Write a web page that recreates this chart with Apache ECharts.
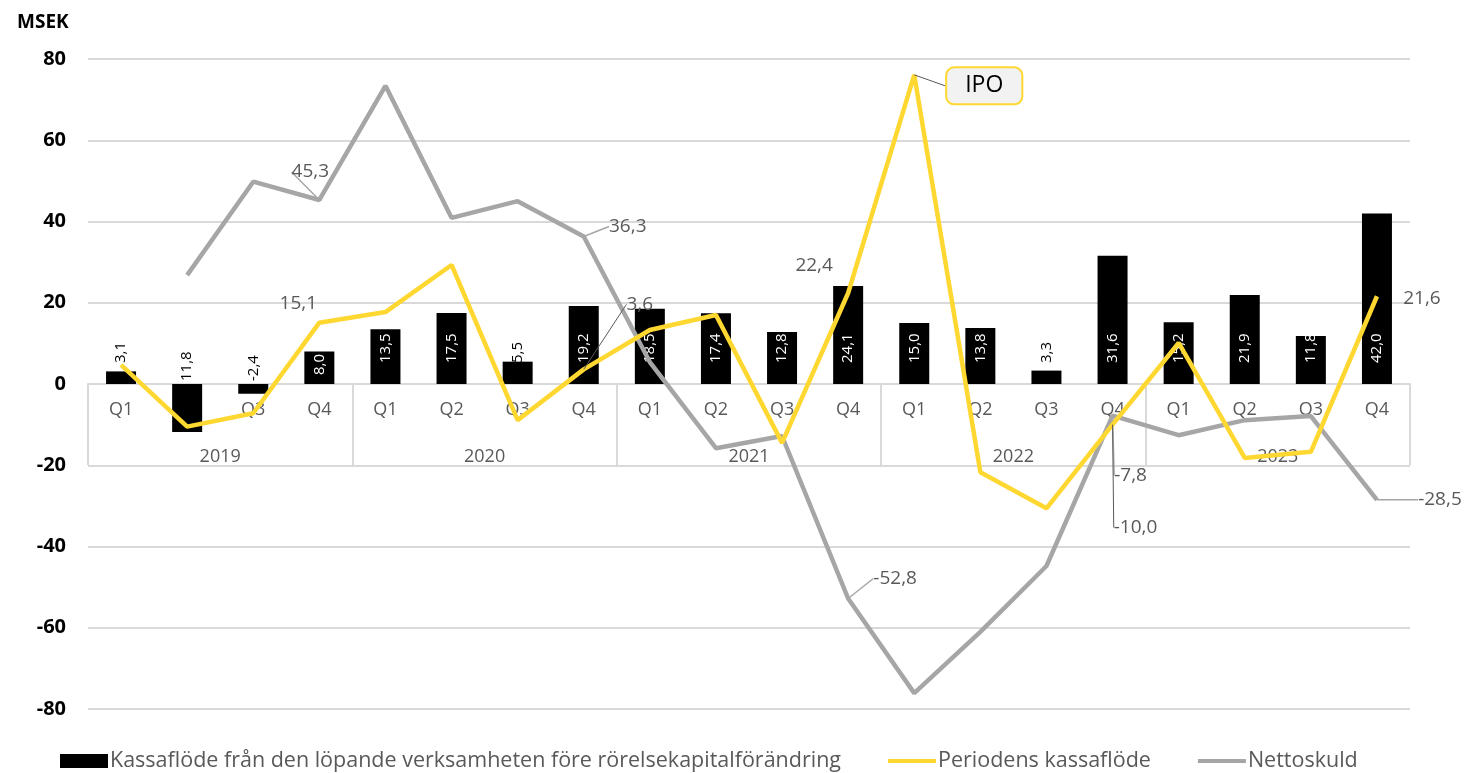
<!DOCTYPE html>
<html>
<head>
<meta charset="utf-8">
<script src="https://cdn.jsdelivr.net/npm/echarts@6/dist/echarts.min.js"></script>
<style>
  html, body { margin: 0; padding: 0; background: #fff; }
  #chart { width: 1466px; height: 773px; }
</style>
</head>
<body>
<div id="chart"></div>
<script>
const quarters = ['Q1','Q2','Q3','Q4','Q1','Q2','Q3','Q4','Q1','Q2','Q3','Q4','Q1','Q2','Q3','Q4','Q1','Q2','Q3','Q4'];
const years = ['2019', '2020', '2021', '2022', '2023'];
const yTicks = { min: -80, max: 80, interval: 20 };

// Kassaflöde från den löpande verksamheten före rörelsekapitalförändring
const operatingCash = [3.1, -11.8, -2.4, 8.0, 13.5, 17.5, 5.5, 19.2, 18.5, 17.4, 12.8, 24.1, 15.0, 13.8, 3.3, 31.6, 15.2, 21.9, 11.8, 42.0];
// Periodens kassaflöde
const periodCash = [4.7, -10.5, -7.2, 15.1, 17.7, 29.3, -8.9, 3.6, 13.3, 17.0, -14.5, 22.4, 76.1, -21.7, -30.6, -10.0, 10.1, -18.2, -16.7, 21.6];
// Nettoskuld
const netDebt = [null, 26.8, 49.8, 45.3, 73.4, 40.9, 45.0, 36.3, 5.4, -15.8, -12.8, -52.8, -76.1, -61.0, -44.8, -7.8, -12.6, -8.9, -7.9, -28.5];

const names = ['Kassaflöde från den löpande verksamheten före rörelsekapitalförändring', 'Periodens kassaflöde', 'Nettoskuld'];
const yellow = '#FFD731';
const grey = '#A6A6A6';
const textGrey = '#595959';
const gridGrey = '#D9D9D9';
const font = 'Open Sans';

const fmt = v => v.toFixed(1).replace('.', ',');

// grid box; the category axes are lifted to the zero line
const gridTop = 59, gridBottom = 64, chartH = 773;
const plotH = chartH - gridTop - gridBottom;
const zeroOffset = -plotH * (0 - yTicks.min) / (yTicks.max - yTicks.min);

// which points get a value label, where it sits relative to the point, and if it has a leader line
const yellowLabels = { 3: [-21, -19, false], 7: [56, -65, true], 11: [-34, -27, false], 15: [23, 103, true], 19: [45, 2, false] };
const greyLabels = { 3: [-9, -28, true], 7: [44, -10, true], 11: [47, -20, true], 15: [18, 60, true], 19: [63, 0, true] };
const ipoIndex = 12;
const ipoOffset = [70, 11, true];

const barData = operatingCash.map(v => {
  let label;
  if (v < 0) {
    label = { position: 'top', distance: 3, color: '#000',
      formatter: p => (p.value < -10 ? fmt(-p.value) : fmt(p.value)) };
  } else if (v > 6 && v < 10) {
    label = { position: 'insideBottom', distance: 9, color: '#fff' };
  } else {
    label = { position: 'insideBottom', distance: 21, color: v > 6 ? '#fff' : '#000' };
  }
  return { value: v, label };
});

const yellowData = periodCash.map((v, i) => {
  if (i === ipoIndex) {
    return { value: v, label: { show: true, formatter: 'IPO', color: '#000', fontSize: 23,
      backgroundColor: '#F2F2F2', borderColor: yellow, borderWidth: 2, borderRadius: 7,
      padding: [7, 18, 5, 18] }, labelLine: { show: true } };
  }
  const o = yellowLabels[i];
  return { value: v, label: { show: !!o }, labelLine: { show: !!(o && o[2]) } };
});
const greyData = netDebt.map((v, i) => {
  const o = greyLabels[i];
  return { value: v, label: { show: !!o }, labelLine: { show: !!(o && o[2]) } };
});

const chart = echarts.init(document.getElementById('chart'));
chart.setOption({
  animation: false,
  title: { text: 'MSEK', left: 12, top: 8,
    textStyle: { fontFamily: font, fontSize: 19, fontWeight: 'bold', color: '#000' } },
  grid: { left: 88, right: 56, top: gridTop, bottom: gridBottom, outerBoundsMode: 'none' },
  legend: {
    top: 745, left: 55, itemGap: 47, itemWidth: 48, itemHeight: 14,
    textStyle: { fontFamily: font, fontSize: 21.5, color: textGrey, padding: [0, 0, 0, -3] },
    data: [
      { name: names[0], icon: 'rect' },
      { name: names[1], icon: 'path://M0,0h48v4h-48z' },
      { name: names[2], icon: 'path://M0,0h48v4h-48z' }
    ]
  },
  xAxis: [
    {
      type: 'category', data: quarters, position: 'bottom', offset: zeroOffset,
      axisLine: { onZero: false, lineStyle: { color: gridGrey, width: 2 } },
      axisTick: { show: false },
      axisLabel: { margin: 17, fontFamily: font, fontSize: 18, color: textGrey }
    },
    {
      type: 'category', data: years, position: 'bottom', offset: zeroOffset,
      axisLine: { show: false, onZero: false },
      axisTick: { show: true, length: 81, lineStyle: { color: gridGrey, width: 2 } },
      axisLabel: { margin: 64, fontFamily: font, fontSize: 18, color: textGrey }
    }
  ],
  yAxis: {
    type: 'value', min: yTicks.min, max: yTicks.max, interval: yTicks.interval,
    axisLine: { show: false }, axisTick: { show: false },
    axisLabel: { margin: 22, fontFamily: font, fontSize: 20, fontWeight: 'bold', color: '#000' },
    splitLine: { lineStyle: { color: gridGrey, width: 2 } }
  },
  series: [
    {
      name: names[0], type: 'bar', data: barData, barWidth: 30, xAxisIndex: 0,
      itemStyle: { color: '#000' },
      label: { show: true, rotate: 90, align: 'left', verticalAlign: 'middle',
        fontFamily: font, fontSize: 15, formatter: p => fmt(p.value) }
    },
    {
      name: names[1], type: 'line', data: yellowData, xAxisIndex: 0,
      symbol: 'circle', symbolSize: 0, showSymbol: true,
      lineStyle: { color: yellow, width: 4.5 }, itemStyle: { color: yellow },
      label: { position: 'inside', fontFamily: font, fontSize: 19, color: textGrey,
        formatter: p => fmt(p.value) },
      labelLine: { lineStyle: { color: textGrey, width: 1 } },
      labelLayout: p => {
        const o = p.dataIndex === ipoIndex ? ipoOffset : yellowLabels[p.dataIndex];
        return o ? { dx: o[0], dy: o[1] } : {};
      },
      z: 3
    },
    {
      name: names[2], type: 'line', data: greyData, xAxisIndex: 0,
      symbol: 'circle', symbolSize: 0, showSymbol: true,
      lineStyle: { color: grey, width: 4.5 }, itemStyle: { color: grey },
      label: { position: 'inside', fontFamily: font, fontSize: 19, color: textGrey,
        formatter: p => fmt(p.value) },
      labelLine: { lineStyle: { color: grey, width: 1.5 } },
      labelLayout: p => {
        const o = greyLabels[p.dataIndex];
        return o ? { dx: o[0], dy: o[1] } : {};
      },
      z: 2
    }
  ]
});
</script>
</body>
</html>
